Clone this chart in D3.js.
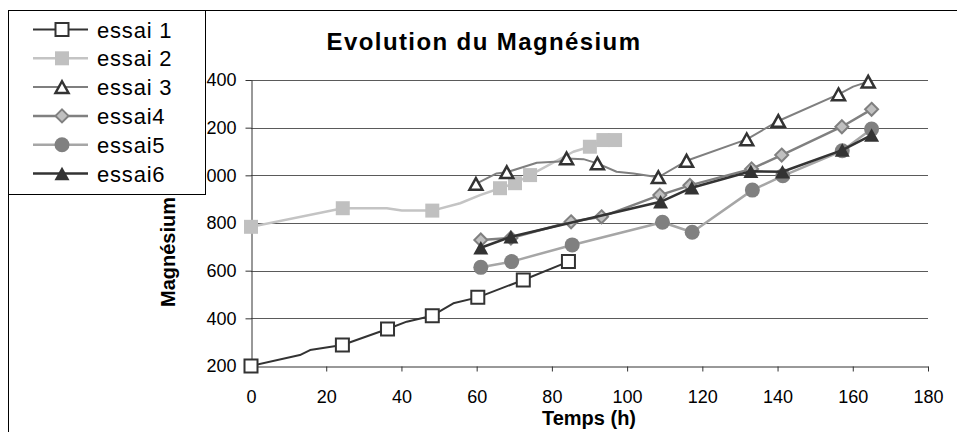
<!DOCTYPE html>
<html>
<head>
<meta charset="utf-8">
<script src="https://cdnjs.cloudflare.com/ajax/libs/d3/7.8.5/d3.min.js"></script>
<style>
    body { margin: 0; background: #fff; }
    svg { display: block; font-family: Arial, "Liberation Sans", sans-serif; }
</style>
</head>
<body>
<svg id="chart" width="957" height="432"></svg>
<script>
(function() {

// [temps (h), magnésium, measured point with marker]
const essai1 = [[0, 200, 1], [13, 246, 0], [15.7, 267, 0], [24.3, 288, 1], [36.3, 355, 1],
    [41.4, 386, 0], [48.2, 411, 1], [53.8, 463, 0], [60.3, 488, 1], [72.4, 561, 1], [84.4, 638, 1]];
const essai2 = [[0, 784, 1], [24.4, 862, 1], [36.1, 862, 0], [40.1, 852, 0], [48.2, 852, 1],
    [55.6, 883, 0], [60.9, 917, 0], [66.2, 946, 1], [70.2, 967, 1], [74.2, 1001, 1],
    [85.7, 1099, 0], [90.1, 1120, 1], [93.7, 1148, 1], [96.8, 1148, 1]];
const essai3 = [[59.8, 964, 1], [65.3, 1008, 0], [68, 1013, 1], [76, 1053, 0], [82, 1058, 0],
    [83.9, 1071, 1], [88.4, 1068, 0], [92.1, 1050, 1], [97.2, 1015, 0], [101.7, 1008, 0],
    [108.3, 992, 1], [115.8, 1061, 1], [131.8, 1151, 1], [140.2, 1228, 1], [156.2, 1340, 1],
    [160.1, 1372, 0], [164.1, 1393, 1]];
const essai4 = [[61.1, 729, 1], [69.1, 737, 1], [85.1, 805, 1], [93.2, 826, 1], [108.7, 917, 1],
    [116.7, 958, 1], [133.1, 1027, 1], [141.1, 1085, 1], [157.1, 1204, 1], [165, 1277, 1]];
const essai5 = [[61.1, 614, 1], [69.3, 638, 1], [85.4, 708, 1], [109.4, 803, 1], [117.3, 761, 1],
    [133.3, 938, 1], [141.4, 998, 1], [157.2, 1103, 1], [165, 1194, 1]];
const essai6 = [[61.1, 696, 1], [69.1, 742, 1], [108.9, 889, 1], [117.2, 948, 1], [132.9, 1017, 1],
    [141.3, 1015, 1], [157.2, 1106, 1], [165, 1169, 1]];

const seriesNames = ["essai 1", "essai 2", "essai 3", "essai4", "essai5", "essai6"];
const xTicks = [0, 20, 40, 60, 80, 100, 120, 140, 160, 180];
const yTicks = [200, 400, 600, 800, 1000, 1200, 1400];

const seriesData = [essai1, essai2, essai3, essai4, essai5, essai6];

// line colour / width and marker look of each series
const seriesStyle = [
    { line: "#333", lw: 2,   shape: "square",   size: 13, fill: "#fff",    stroke: "#333",  sw: 2 },
    { line: "#c4c4c4", lw: 2.5, shape: "square", size: 14, fill: "#c0c0c0", stroke: "none", sw: 0 },
    { line: "#7f7f7f", lw: 2, shape: "triangle", size: 13, fill: "#fff",    stroke: "#333",  sw: 2.5 },
    { line: "#808080", lw: 2.5, shape: "diamond", size: 13, fill: "#c0c0c0", stroke: "#808080", sw: 2 },
    { line: "#a6a6a6", lw: 2.5, shape: "circle", size: 15, fill: "#808080", stroke: "none", sw: 0 },
    { line: "#333", lw: 2.5, shape: "triangle", size: 15, fill: "#333",    stroke: "none", sw: 0 }
];

const svg = d3.select("#chart");

const plot = { left: 251, right: 928, top: 80, bottom: 366 };

const x = d3.scaleLinear().domain([0, 180]).range([plot.left, plot.right]);
const y = d3.scaleLinear().domain([200, 1400]).range([plot.bottom, plot.top]);

/**
 * Path of a marker centred on 0,0
 */

function markerPath(shape, s) {
    const h = s / 2;
    if (shape === "square") {
        return "M" + (-h) + "," + (-h) + "h" + s + "v" + s + "h" + (-s) + "Z";
    }
    if (shape === "triangle") {
        const th = s * 0.9 / 2;
        return "M0," + (-th) + "L" + h + "," + th + "L" + (-h) + "," + th + "Z";
    }
    if (shape === "diamond") {
        return "M0," + (-h) + "L" + h + ",0L0," + h + "L" + (-h) + ",0Z";
    }
    const p = d3.path();
    p.arc(0, 0, h, 0, 2 * Math.PI);
    return p.toString();
}

// outer frame (left and top edges only, picture is cropped)
svg.append("path")
    .attr("d", "M8.5,432V10.5H957")
    .attr("fill", "none")
    .attr("stroke", "#000")
    .attr("stroke-width", 1);

// title
svg.append("text")
    .attr("x", 484)
    .attr("y", 50)
    .attr("text-anchor", "middle")
    .attr("font-size", 24)
    .attr("font-weight", "bold")
    .attr("letter-spacing", 1.4)
    .text("Evolution du Magnésium");

// horizontal grid lines
svg.append("g")
    .attr("class", "grid")
    .selectAll("line")
    .data(yTicks.slice(1))
    .enter().append("line")
    .attr("x1", plot.left)
    .attr("x2", plot.right)
    .attr("y1", (d) => Math.round(y(d)) + 0.5)
    .attr("y2", (d) => Math.round(y(d)) + 0.5)
    .attr("stroke", "#5a5a5a")
    .attr("stroke-width", 1);

// axes
const xAxis = svg.append("g")
    .attr("transform", "translate(0," + (plot.bottom + 0.5) + ")")
    .call(d3.axisBottom(x).tickValues(xTicks).tickSize(5).tickSizeOuter(0).tickPadding(19));

const yAxis = svg.append("g")
    .attr("transform", "translate(" + (plot.left + 0.5) + ",0)")
    .call(d3.axisLeft(y).tickValues(yTicks).tickSize(6).tickSizeOuter(0).tickPadding(9));

[xAxis, yAxis].forEach(function(ax) {
    ax.selectAll("path, line").attr("stroke", "#333");
    ax.selectAll("text")
        .attr("font-size", 18)
        .attr("fill", "#000")
        .style("font-family", "Arial, 'Liberation Sans', sans-serif");
});

// axis titles
svg.append("text")
    .attr("x", 589)
    .attr("y", 425)
    .attr("text-anchor", "middle")
    .attr("font-size", 20)
    .attr("font-weight", "bold")
    .text("Temps (h)");

svg.append("text")
    .attr("transform", "translate(175,252) rotate(-90)")
    .attr("text-anchor", "middle")
    .attr("font-size", 20)
    .attr("font-weight", "bold")
    .text("Magnésium");

// series: line then markers, in order
const line = d3.line()
    .x((d) => x(d[0]))
    .y((d) => y(d[1]));

const series = svg.append("g")
    .attr("class", "series")
    .selectAll("g")
    .data(seriesData)
    .enter().append("g");

series.append("path")
    .attr("d", (d) => line(d))
    .attr("fill", "none")
    .attr("stroke", (d, i) => seriesStyle[i].line)
    .attr("stroke-width", (d, i) => seriesStyle[i].lw)
    .attr("stroke-linejoin", "round");

series.each(function(d, i) {
    const st = seriesStyle[i];
    d3.select(this).selectAll("path.marker")
        .data(d.filter((p) => p[2]))
        .enter().append("path")
        .attr("class", "marker")
        .attr("transform", (p) => "translate(" + x(p[0]) + "," + y(p[1]) + ")")
        .attr("d", markerPath(st.shape, st.size))
        .attr("fill", st.fill)
        .attr("stroke", st.stroke)
        .attr("stroke-width", st.sw);
});

// legend, drawn over the axis labels like the original
const legend = svg.append("g").attr("class", "legend");

legend.append("rect")
    .attr("x", 8.5)
    .attr("y", 10.5)
    .attr("width", 197)
    .attr("height", 184)
    .attr("fill", "#fff")
    .attr("stroke", "#000");

const entry = legend.selectAll("g")
    .data(seriesNames)
    .enter().append("g")
    .attr("transform", (d, i) => "translate(62," + (29.5 + i * 28.8) + ")");

entry.append("line")
    .attr("x1", -29)
    .attr("x2", 26)
    .attr("stroke", (d, i) => seriesStyle[i].line)
    .attr("stroke-width", (d, i) => seriesStyle[i].lw);

entry.append("path")
    .attr("d", (d, i) => markerPath(seriesStyle[i].shape, seriesStyle[i].size))
    .attr("fill", (d, i) => seriesStyle[i].fill)
    .attr("stroke", (d, i) => seriesStyle[i].stroke)
    .attr("stroke-width", (d, i) => seriesStyle[i].sw);

entry.append("text")
    .attr("x", 35)
    .attr("y", 8)
    .attr("font-size", 22)
    .attr("letter-spacing", 0.8)
    .text((d) => d);

})();
</script>
</body>
</html>
